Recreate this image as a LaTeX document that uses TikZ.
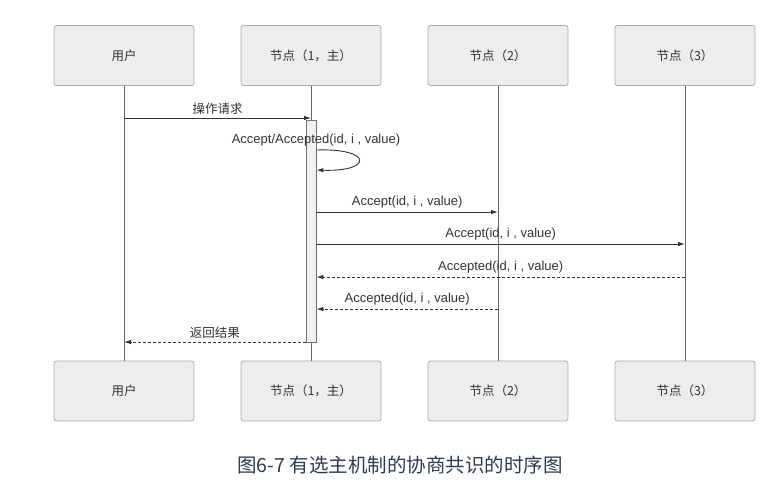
\documentclass[tikz,border=0pt]{standalone}
\usepackage{fontspec}
\setmainfont{Liberation Sans}
\newfontfamily\cjk{Noto Sans CJK SC}
\usetikzlibrary{arrows.meta}
\definecolor{boxfill}{HTML}{EDEDED}
\definecolor{boxline}{HTML}{ABABAB}
\definecolor{lineclr}{HTML}{333333}
\definecolor{txtclr}{HTML}{333333}
\definecolor{titleclr}{HTML}{2E3B4C}
\begin{document}
\begin{tikzpicture}[x=1pt,y=-1pt,
  actor/.style={draw=boxline, fill=boxfill, rounded corners=2.5pt, minimum width=140pt, minimum height=60pt, font=\cjk\fontsize{12.5}{15}\selectfont, text=txtclr, line width=0.8pt},
  life/.style={draw=black!60, line width=0.7pt},
  msg/.style={draw=lineclr, line width=0.9pt, -{Latex[length=7pt,width=4.5pt]}},
  reply/.style={msg, dash pattern=on 3pt off 2pt},
  lbl/.style={font=\fontsize{13}{15}\selectfont, text=txtclr, above, inner sep=0pt, yshift=3.5pt},
  cjklbl/.style={lbl, font=\cjk\fontsize{12.5}{15}\selectfont},
]
\useasboundingbox (0,0) rectangle (776,491);
% top actors
\node[actor] (u1) at (124,55.5) {用户};
\node[actor] (a1) at (311,55.5) {节点（1，主）};
\node[actor] (b1) at (498,55.5) {节点（2）};
\node[actor] (c1) at (685,55.5) {节点（3）};
% bottom actors
\node[actor] (u2) at (124,391) {用户};
\node[actor] (a2) at (311,391) {节点（1，主）};
\node[actor] (b2) at (498,391) {节点（2）};
\node[actor] (c2) at (685,391) {节点（3）};
% lifelines
\draw[life] (u1.south) -- (u2.north);
\draw[life] (a1.south) -- (a2.north);
\draw[life] (b1.south) -- (b2.north);
\draw[life] (c1.south) -- (c2.north);
% activation
\node[draw=black!55, fill=black!6, minimum width=10pt, minimum height=222pt, inner sep=0pt, line width=0.8pt] (act) at (311,231) {};
% messages
\draw[msg] (u1 |- 0,118) -- (a1 |- 0,118) node[cjklbl, midway] (l1) {操作请求};
\draw[msg] (act.east |- 0,150) .. controls (373,148) and (373,172) .. (act.east |- 0,170);
\node[font=\fontsize{13}{15}\selectfont, text=txtclr] (l2) at (316,140) {Accept/Accepted(id, i , value)};
\draw[msg] (act.east |- 0,212) -- (b1 |- 0,212) node[lbl, midway] (l3) {Accept(id, i , value)};
\draw[msg] (act.east |- 0,244) -- (c1 |- 0,244) node[lbl, midway] (l4) {Accept(id, i , value)};
\draw[reply] (c1 |- 0,277) -- (act.east |- 0,277) node[lbl, midway] (l5) {Accepted(id, i , value)};
\draw[reply] (b1 |- 0,309) -- (act.east |- 0,309) node[lbl, midway] (l6) {Accepted(id, i , value)};
\draw[reply] (act.west |- 0,342) -- (u1 |- 0,342) node[cjklbl, midway] (l7) {返回结果};
% title
\node[font=\cjk\fontsize{19.5}{22}\selectfont, text=titleclr] (title) at (400,465) {图6-7 有选主机制的协商共识的时序图};
\end{tikzpicture}
\end{document}
